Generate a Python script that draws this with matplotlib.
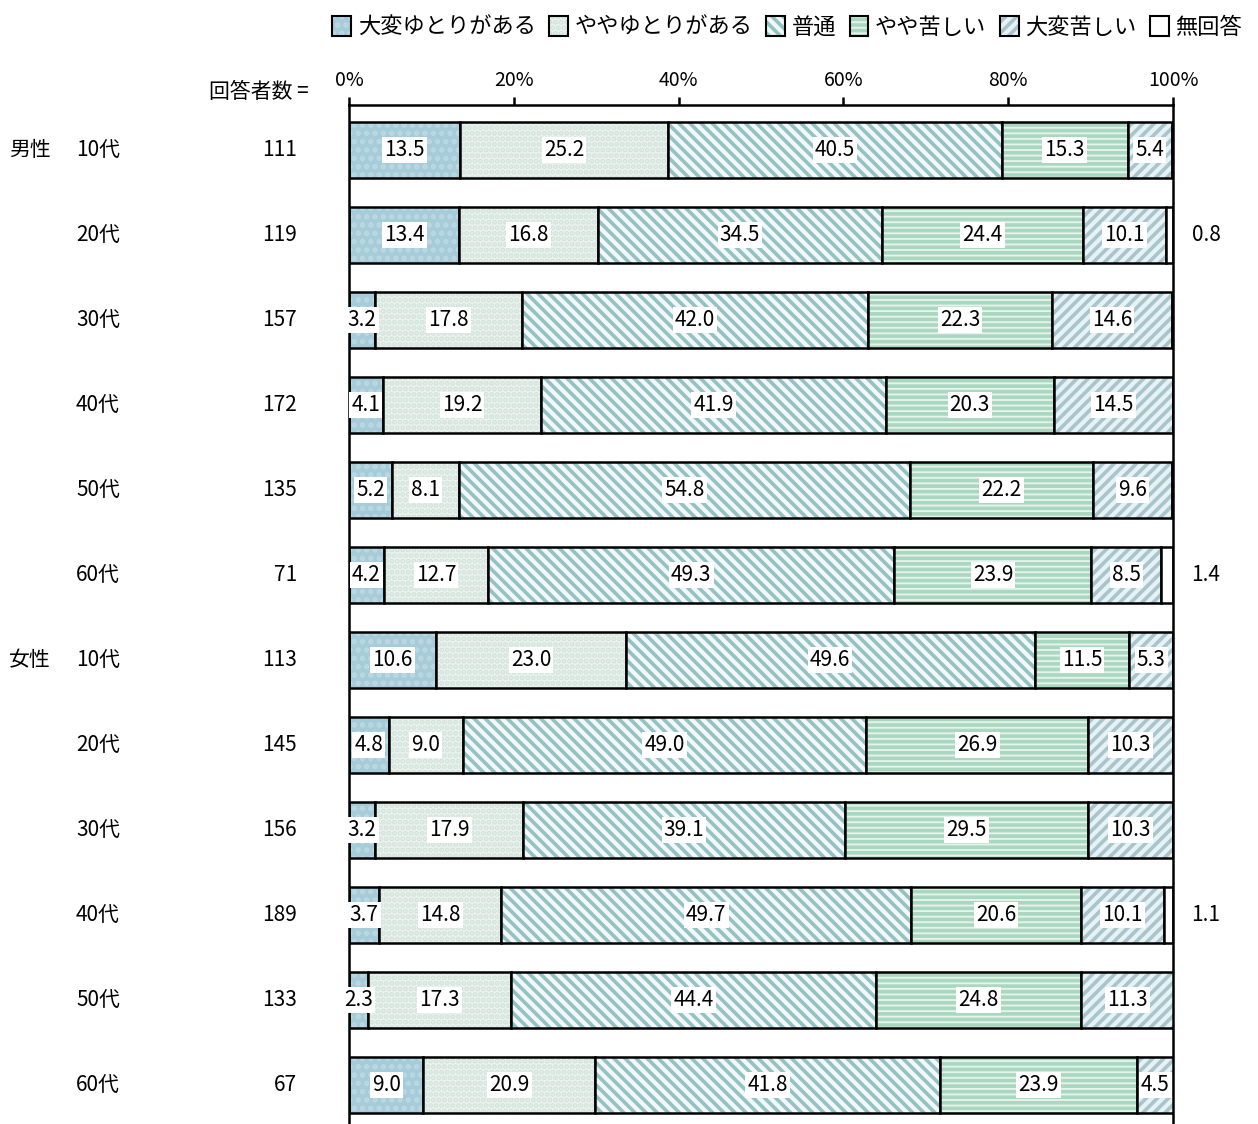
import matplotlib.pyplot as plt
import numpy as np
from matplotlib.patches import Patch
from matplotlib.legend_handler import HandlerTuple

plt.rcParams['font.family'] = ['Noto Sans CJK JP', 'DejaVu Sans']
plt.rcParams['hatch.linewidth'] = 2.6

categories = ["大変ゆとりがある", "ややゆとりがある", "普通", "やや苦しい", "大変苦しい", "無回答"]
groups = ["男性", "", "", "", "", "", "女性", "", "", "", "", ""]
ages = ["10代", "20代", "30代", "40代", "50代", "60代",
        "10代", "20代", "30代", "40代", "50代", "60代"]
counts = [111, 119, 157, 172, 135, 71, 113, 145, 156, 189, 133, 67]

very_easy = [13.5, 13.4, 3.2, 4.1, 5.2, 4.2, 10.6, 4.8, 3.2, 3.7, 2.3, 9.0]
somewhat_easy = [25.2, 16.8, 17.8, 19.2, 8.1, 12.7, 23.0, 9.0, 17.9, 14.8, 17.3, 20.9]
normal = [40.5, 34.5, 42.0, 41.9, 54.8, 49.3, 49.6, 49.0, 39.1, 49.7, 44.4, 41.8]
somewhat_hard = [15.3, 24.4, 22.3, 20.3, 22.2, 23.9, 11.5, 26.9, 29.5, 20.6, 24.8, 23.9]
very_hard = [5.4, 10.1, 14.6, 14.5, 9.6, 8.5, 5.3, 10.3, 10.3, 10.1, 11.3, 4.5]
no_answer = [0.0, 0.8, 0.0, 0.0, 0.0, 1.4, 0.0, 0.0, 0.0, 1.1, 0.0, 0.0]

series = [very_easy, somewhat_easy, normal, somewhat_hard, very_hard, no_answer]

# (face, hatch, hatch colour)
styles = [
    ("#a6cbd9", "..", "#bcd9e3"),
    ("#eaf3ef", "...", "#d2e2da"),
    ("#f2f8fa", "\\\\\\", "#94c2c2"),
    ("#e4f3ec", "---", "#a9d7bf"),
    ("#e6f3f6", "///", "#aac4cb"),
    ("#ffffff", "", "#ffffff"),
]

fig = plt.figure(figsize=(12.58, 11.24), dpi=100)
ax = fig.add_axes([349 / 1258, 0, 824 / 1258, 1 - 105 / 1124])

y = np.arange(len(ages))
left = np.zeros(len(ages))
h = 0.66
handles = []
for vals, (face, hatch, hc), name in zip(series, styles, categories):
    vals = np.array(vals)
    ax.barh(y, vals, left=left, height=h, color=face, hatch=hatch,
            edgecolor=hc, linewidth=0)
    ax.barh(y, vals, left=left, height=h, color="none", edgecolor="black",
            linewidth=1.8)
    handles.append((Patch(facecolor=face, hatch=hatch, edgecolor=hc, linewidth=0),
                    Patch(facecolor="none", edgecolor="black", linewidth=1.5)))
    for i, v in enumerate(vals):
        if v <= 0:
            continue
        if name == "無回答":
            ax.text(104, y[i], f"{v:.1f}", ha="center", va="center",
                    fontsize=15, clip_on=False)
        else:
            ax.text(left[i] + v / 2, y[i], f"{v:.1f}", ha="center", va="center",
                    fontsize=15,
                    bbox=dict(facecolor="white", edgecolor="none", pad=1.5))
    left += vals

ax.set_xlim(0, 100)
ax.set_ylim(11.46, -0.53)
ax.xaxis.tick_top()
ax.set_xticks([0, 20, 40, 60, 80, 100])
ax.set_xticklabels([f"{t}%" for t in [0, 20, 40, 60, 80, 100]], fontsize=14)
ax.tick_params(axis="x", direction="out", length=6, width=1.8, pad=4)
ax.set_yticks([])
ax.spines["bottom"].set_visible(False)
for s in ["top", "left", "right"]:
    ax.spines[s].set_linewidth(1.8)

def px(x):
    return (x - 349) / 824 * 100

for i in range(len(ages)):
    if groups[i]:
        ax.text(px(30), y[i], groups[i], ha="center", va="center", fontsize=15, clip_on=False)
    ax.text(px(98), y[i], ages[i], ha="center", va="center", fontsize=15, clip_on=False)
    ax.text(px(297), y[i], str(counts[i]), ha="right", va="center", fontsize=15, clip_on=False)

fig.text(309 / 1258, 1 - 92 / 1124, "回答者数 =", ha="right", va="center", fontsize=15)

fig.legend(handles, categories, handler_map={tuple: HandlerTuple(ndivide=1, pad=0)},
           loc="upper right", bbox_to_anchor=(0.998, 0.998), ncol=6, frameon=False,
           fontsize=16, handlelength=0.85, handleheight=0.95, handletextpad=0.3,
           columnspacing=0.6, borderaxespad=0.2)

fig.savefig("out.png", dpi=100)
